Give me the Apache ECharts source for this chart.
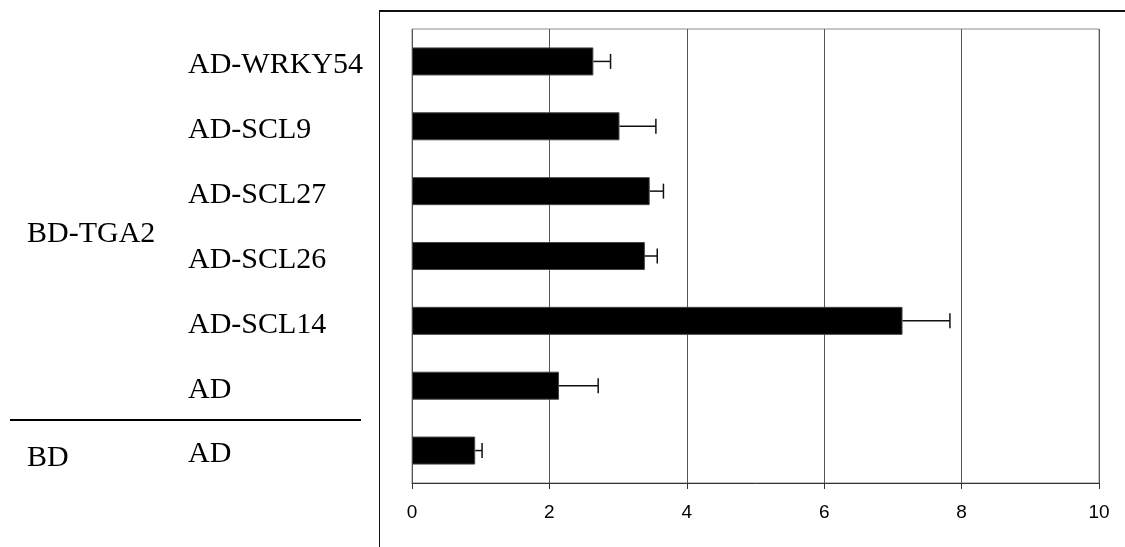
<!DOCTYPE html>
<html>
<head>
<meta charset="utf-8">
<script src="https://cdn.jsdelivr.net/npm/echarts@6/dist/echarts.min.js"></script>
<style>
  html, body { margin: 0; padding: 0; background: #fff; }
  #chart { width: 1125px; height: 547px; }
</style>
</head>
<body>
<div id="chart"></div>
<script>
// Prey constructs, listed top to bottom
const categories = ['AD-WRKY54', 'AD-SCL9', 'AD-SCL27', 'AD-SCL26', 'AD-SCL14', 'AD', 'AD'];
// Mean reporter activity per combination
const values = [2.64, 3.02, 3.46, 3.39, 7.14, 2.14, 0.92];
// Standard deviation (drawn on the positive side only)
const errors = [0.25, 0.53, 0.20, 0.18, 0.69, 0.57, 0.10];
// Bait constructs labelling the row groups
const baitLabels = ['BD-TGA2', 'BD'];
// Value axis ticks
const xTicks = [0, 2, 4, 6, 8, 10];

const chart = echarts.init(document.getElementById('chart'), null, { renderer: 'canvas' });

const serif = '"Liberation Serif", "Times New Roman", serif';
const sans = '"Liberation Sans", Arial, sans-serif';

const errorData = values.map((v, i) => [i, v, v + errors[i]]);

chart.setOption({
  animation: false,
  backgroundColor: '#ffffff',
  grid: {
    left: 412, right: 26, top: 29, bottom: 64,
    show: true, borderColor: '#8a8a8a', borderWidth: 1, backgroundColor: 'transparent'
  },
  xAxis: {
    type: 'value',
    min: xTicks[0],
    max: xTicks[xTicks.length - 1],
    interval: xTicks[1] - xTicks[0],
    axisLine: { show: true, lineStyle: { color: '#333', width: 1 } },
    axisTick: { show: true, length: 6, lineStyle: { color: '#333' } },
    axisLabel: { color: '#000', fontFamily: sans, fontSize: 19, margin: 20 },
    splitLine: { show: true, lineStyle: { color: '#555', width: 1 } }
  },
  yAxis: {
    type: 'category',
    inverse: true,
    data: categories,
    axisLine: { show: false },
    axisTick: { show: false },
    axisLabel: {
      align: 'left', margin: 224,
      formatter: function (v) { return '{c|' + v + '}'; },
      rich: {
        c: { color: '#000', fontFamily: serif, fontSize: 30, padding: [8, 0, 0, 0] }
      }
    }
  },
  series: [
    {
      type: 'bar',
      data: values,
      barWidth: 28,
      itemStyle: { color: '#000', borderColor: '#444', borderWidth: 1 }
    },
    {
      type: 'custom',
      data: errorData,
      encode: { y: 0, x: [1, 2] },
      z: 3,
      renderItem: function (params, api) {
        const idx = api.value(0);
        const start = api.coord([api.value(1), idx]);
        const end = api.coord([api.value(2), idx]);
        const half = 7.5;
        const style = { stroke: '#111', lineWidth: 1.5 };
        return {
          type: 'group',
          children: [
            { type: 'line', shape: { x1: start[0], y1: start[1], x2: end[0], y2: end[1] }, style: style },
            { type: 'line', shape: { x1: end[0], y1: end[1] - half, x2: end[0], y2: end[1] + half }, style: style }
          ]
        };
      }
    }
  ],
  graphic: [
    // outer frame around the plot block
    { type: 'line', shape: { x1: 379.5, y1: 11, x2: 379.5, y2: 547 }, style: { stroke: '#111', lineWidth: 1 } },
    { type: 'line', shape: { x1: 379, y1: 11, x2: 1125, y2: 11 }, style: { stroke: '#111', lineWidth: 2 } },
    // divider between bait groups
    { type: 'line', shape: { x1: 10, y1: 420, x2: 361, y2: 420 }, style: { stroke: '#000', lineWidth: 2 } },
    {
      type: 'text', left: 27, top: 219,
      style: { text: baitLabels[0], fill: '#000', font: '30px ' + serif }
    },
    {
      type: 'text', left: 27, top: 443,
      style: { text: baitLabels[1], fill: '#000', font: '30px ' + serif }
    }
  ]
});
</script>
</body>
</html>
